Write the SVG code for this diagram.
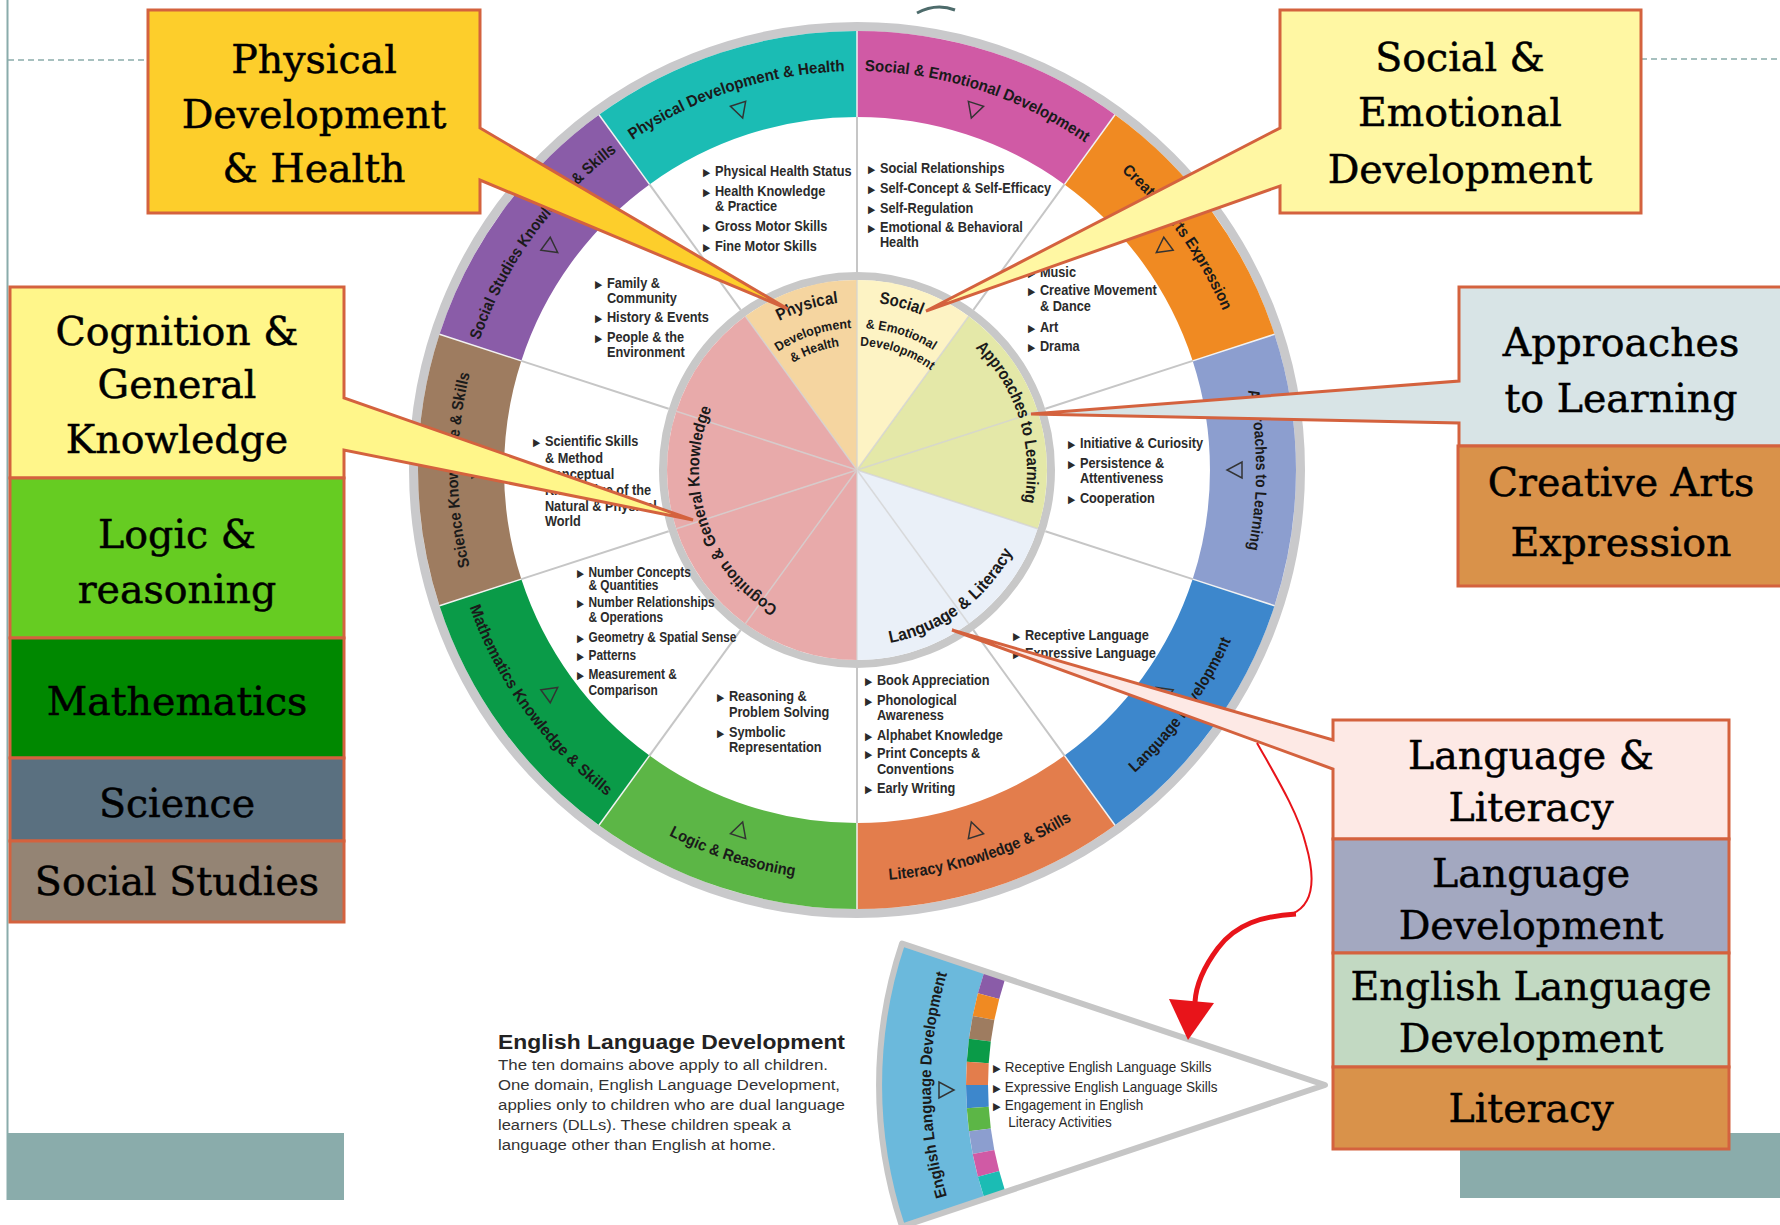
<svg xmlns="http://www.w3.org/2000/svg" width="1780" height="1225" viewBox="0 0 1780 1225">
<defs>
<style>
.box{font-family:"DejaVu Serif","Liberation Serif",serif;font-size:39.5px;fill:#000;stroke:#000;stroke-width:0.5;text-anchor:middle}
.cs{stroke:#d4623e;stroke-width:3;stroke-linejoin:miter}
.band{font-family:"Liberation Sans",Arial,sans-serif;font-weight:bold;font-size:16px;fill:#1a1a1a}
.inl{font-family:"Liberation Sans",Arial,sans-serif;font-weight:bold;fill:#1a1a1a}
.it{font-family:"Liberation Sans",Arial,sans-serif;font-weight:bold;font-size:15px;fill:#2b2b2b}
.itr{font-family:"Liberation Sans",Arial,sans-serif;font-size:15px;fill:#2b2b2b}
.bu{font-family:"DejaVu Sans",sans-serif;font-size:11px}
.sep{stroke:#f2f2f2;stroke-width:1.5}
.rad{stroke:#c6c6c6;stroke-width:2}
.irad{stroke:#d4d4d4;stroke-width:1.5;opacity:.8}
.tri{fill:none;stroke:#333;stroke-width:1.5}
.deco{fill:#8aacab}
</style>
<path id="pSci" d="M477.5,593.3 A399 399 0 0 1 477.5,346.7"/>
<path id="pSoc" d="M477.5,346.7 A399 399 0 0 1 622.5,147.2"/>
<path id="pPhy" d="M622.5,147.2 A399 399 0 0 1 857,71"/>
<path id="pSE" d="M857,71 A399 399 0 0 1 1091.5,147.2"/>
<path id="pCA" d="M1091.5,147.2 A399 399 0 0 1 1236.5,346.7"/>
<path id="pAL" d="M1236.5,346.7 A399 399 0 0 1 1236.5,593.3"/>
<path id="pLD" d="M1098.6,802.5 A411 411 0 0 0 1247.9,597"/>
<path id="pLit" d="M857,881 A411 411 0 0 0 1098.6,802.5"/>
<path id="pLog" d="M615.4,802.5 A411 411 0 0 0 857,881"/>
<path id="pMat" d="M466.1,597 A411 411 0 0 0 615.4,802.5"/>
<path id="iPhy1" d="M708.7,391.1 A168 168 0 0 1 935.9,321.7"/>
<path id="iPhy2" d="M730.5,405.5 A142 142 0 0 1 921.5,343.5"/>
<path id="iPhy3" d="M744.2,416.2 A125 125 0 0 1 910.8,357.2"/>
<path id="iSE1" d="M773,324.5 A168 168 0 0 1 1002.5,386"/>
<path id="iSE2" d="M792.5,343.5 A142 142 0 0 1 983.5,405.5"/>
<path id="iSE3" d="M802.6,358.5 A124 124 0 0 1 968.5,415.6"/>
<path id="iAL" d="M935.5,319.2 A170 170 0 0 1 1007.8,548.5"/>
<path id="iLL" d="M831,644.1 A176 176 0 0 0 1031.1,496"/>
<path id="iCG" d="M786.5,611.4 A158 158 0 0 1 715.6,399.5"/>
<path id="pELD" d="M950.2,1206.7 A394 394 0 0 1 950.2,963.3"/>
</defs>
<rect width="1780" height="1225" fill="#fff"/>

<g id="decor">
<line x1="7.5" y1="0" x2="7.5" y2="1200" stroke="#8aacab" stroke-width="2"/>
<line x1="8" y1="60" x2="148" y2="60" stroke="#8aacab" stroke-width="1.5" stroke-dasharray="6 4"/>
<line x1="1641" y1="59" x2="1780" y2="59" stroke="#8aacab" stroke-width="1.5" stroke-dasharray="6 4"/>
<rect class="deco" x="8" y="1133" width="336" height="67"/>
<rect class="deco" x="1460" y="1133" width="320" height="65"/>
<path d="M917,13 Q936,3 955,10" fill="none" stroke="#4d6b6b" stroke-width="3"/>
</g>

<g id="wheel">
<circle cx="857" cy="470" r="443.5" fill="#fff" stroke="#c9c9cb" stroke-width="9"/>
<path fill="#d05aa5" d="M857,31 A439 439 0 0 1 1115,114.8 L1064.5,184.4 A353 353 0 0 0 857,117 Z"/>
<path fill="#f08a22" d="M1115,114.8 A439 439 0 0 1 1274.5,334.3 L1192.7,360.9 A353 353 0 0 0 1064.5,184.4 Z"/>
<path fill="#8c9ecf" d="M1274.5,334.3 A439 439 0 0 1 1274.5,605.7 L1192.7,579.1 A353 353 0 0 0 1192.7,360.9 Z"/>
<path fill="#3d87cc" d="M1274.5,605.7 A439 439 0 0 1 1115,825.2 L1064.5,755.6 A353 353 0 0 0 1192.7,579.1 Z"/>
<path fill="#e37d4c" d="M1115,825.2 A439 439 0 0 1 857,909 L857,823 A353 353 0 0 0 1064.5,755.6 Z"/>
<path fill="#5cb646" d="M857,909 A439 439 0 0 1 599,825.2 L649.5,755.6 A353 353 0 0 0 857,823 Z"/>
<path fill="#0a9b48" d="M599,825.2 A439 439 0 0 1 439.5,605.7 L521.3,579.1 A353 353 0 0 0 649.5,755.6 Z"/>
<path fill="#9e7c60" d="M439.5,605.7 A439 439 0 0 1 439.5,334.3 L521.3,360.9 A353 353 0 0 0 521.3,579.1 Z"/>
<path fill="#8a5ca8" d="M439.5,334.3 A439 439 0 0 1 599,114.8 L649.5,184.4 A353 353 0 0 0 521.3,360.9 Z"/>
<path fill="#1bbcb4" d="M599,114.8 A439 439 0 0 1 857,31 L857,117 A353 353 0 0 0 649.5,184.4 Z"/>
<g class="sep">
<line x1="857" y1="31" x2="857" y2="117"/><line x1="1115" y1="114.8" x2="1064.5" y2="184.4"/>
<line x1="1274.5" y1="334.3" x2="1192.7" y2="360.9"/><line x1="1274.5" y1="605.7" x2="1192.7" y2="579.1"/>
<line x1="1115" y1="825.2" x2="1064.5" y2="755.6"/><line x1="857" y1="909" x2="857" y2="823"/>
<line x1="599" y1="825.2" x2="649.5" y2="755.6"/><line x1="439.5" y1="605.7" x2="521.3" y2="579.1"/>
<line x1="439.5" y1="334.3" x2="521.3" y2="360.9"/><line x1="599" y1="114.8" x2="649.5" y2="184.4"/>
</g>
<g class="rad">
<line x1="857" y1="272" x2="857" y2="117"/><line x1="973.4" y1="309.8" x2="1064.5" y2="184.4"/>
<line x1="1045.3" y1="408.8" x2="1192.7" y2="360.9"/><line x1="1045.3" y1="531.2" x2="1192.7" y2="579.1"/>
<line x1="973.4" y1="630.2" x2="1064.5" y2="755.6"/><line x1="857" y1="668" x2="857" y2="823"/>
<line x1="740.6" y1="630.2" x2="649.5" y2="755.6"/><line x1="668.7" y1="531.2" x2="521.3" y2="579.1"/>
<line x1="668.7" y1="408.8" x2="521.3" y2="360.9"/><line x1="740.6" y1="309.8" x2="649.5" y2="184.4"/>
</g>
<circle cx="857" cy="470" r="194" fill="none" stroke="#c8c8c8" stroke-width="8"/>
<path fill="#f5d5a0" d="M857,470 L745.3,316.3 A190 190 0 0 1 857,280 Z"/>
<path fill="#fdf3c4" d="M857,470 L857,280 A190 190 0 0 1 968.7,316.3 Z"/>
<path fill="#e4e8a8" d="M857,470 L968.7,316.3 A190 190 0 0 1 1037.7,528.7 Z"/>
<path fill="#eaf0f8" d="M857,470 L1037.7,528.7 A190 190 0 0 1 857,660 Z"/>
<path fill="#e8aaaa" d="M857,470 L857,660 A190 190 0 0 1 745.3,316.3 Z"/>
<g class="irad">
<line x1="857" y1="470" x2="857" y2="280"/><line x1="857" y1="470" x2="968.7" y2="316.3"/>
<line x1="857" y1="470" x2="1037.7" y2="411.3"/><line x1="857" y1="470" x2="1037.7" y2="528.7"/>
<line x1="857" y1="470" x2="968.7" y2="623.7"/><line x1="857" y1="470" x2="857" y2="660"/>
<line x1="857" y1="470" x2="745.3" y2="623.7"/><line x1="857" y1="470" x2="676.3" y2="528.7"/>
<line x1="857" y1="470" x2="676.3" y2="411.3"/><line x1="857" y1="470" x2="745.3" y2="316.3"/>
</g>

<g class="band">
<text><textPath href="#pSci" startOffset="50%" text-anchor="middle" textLength="195" lengthAdjust="spacingAndGlyphs">Science Knowledge &amp; Skills</textPath></text>
<text><textPath href="#pSoc" startOffset="50%" text-anchor="middle" textLength="237" lengthAdjust="spacingAndGlyphs">Social Studies Knowledge &amp; Skills</textPath></text>
<text><textPath href="#pPhy" startOffset="50%" text-anchor="middle" textLength="226" lengthAdjust="spacingAndGlyphs">Physical Development &amp; Health</textPath></text>
<text><textPath href="#pSE" startOffset="50%" text-anchor="middle" textLength="235" lengthAdjust="spacingAndGlyphs">Social &amp; Emotional Development</textPath></text>
<text><textPath href="#pCA" startOffset="50%" text-anchor="middle" textLength="174" lengthAdjust="spacingAndGlyphs">Creative Arts Expression</textPath></text>
<text><textPath href="#pAL" startOffset="50%" text-anchor="middle" textLength="160" lengthAdjust="spacingAndGlyphs">Approaches to Learning</textPath></text>
<text><textPath href="#pLD" startOffset="50%" text-anchor="middle" textLength="165" lengthAdjust="spacingAndGlyphs">Language Development</textPath></text>
<text><textPath href="#pLit" startOffset="50%" text-anchor="middle" textLength="194" lengthAdjust="spacingAndGlyphs">Literacy Knowledge &amp; Skills</textPath></text>
<text><textPath href="#pLog" startOffset="50%" text-anchor="middle" textLength="133" lengthAdjust="spacingAndGlyphs">Logic &amp; Reasoning</textPath></text>
<text><textPath href="#pMat" startOffset="50%" text-anchor="middle" textLength="237" lengthAdjust="spacingAndGlyphs">Mathematics Knowledge &amp; Skills</textPath></text>
</g>
<g class="tri">
<polygon points="-8,-7 8,-7 0,8" transform="translate(973.8,110.5) rotate(18)"/>
<polygon points="-8,-7 8,-7 0,8" transform="translate(1162.8,247.8) rotate(54)"/>
<polygon points="-8,-7 8,-7 0,8" transform="translate(1235,470) rotate(90)"/>
<polygon points="-8,-7 8,-7 0,8" transform="translate(1162.8,692.2) rotate(126)"/>
<polygon points="-8,-7 8,-7 0,8" transform="translate(973.8,829.5) rotate(162)"/>
<polygon points="-8,-7 8,-7 0,8" transform="translate(740.2,829.5) rotate(198)"/>
<polygon points="-8,-7 8,-7 0,8" transform="translate(551.2,692.2) rotate(234)"/>
<polygon points="-8,-7 8,-7 0,8" transform="translate(479,470) rotate(270)"/>
<polygon points="-8,-7 8,-7 0,8" transform="translate(551.2,247.8) rotate(306)"/>
<polygon points="-8,-7 8,-7 0,8" transform="translate(740.2,110.5) rotate(342)"/>
</g>

<g class="inl">
<text font-size="17"><textPath href="#iPhy1" startOffset="50%" text-anchor="middle" textLength="62" lengthAdjust="spacingAndGlyphs">Physical</textPath></text>
<text font-size="13"><textPath href="#iPhy2" startOffset="50%" text-anchor="middle" textLength="78" lengthAdjust="spacingAndGlyphs">Development</textPath></text>
<text font-size="13"><textPath href="#iPhy3" startOffset="50%" text-anchor="middle" textLength="50" lengthAdjust="spacingAndGlyphs">&amp; Health</textPath></text>
<text font-size="17"><textPath href="#iSE1" startOffset="50%" text-anchor="middle" textLength="44" lengthAdjust="spacingAndGlyphs">Social</textPath></text>
<text font-size="13"><textPath href="#iSE2" startOffset="50%" text-anchor="middle" textLength="72" lengthAdjust="spacingAndGlyphs">&amp; Emotional</textPath></text>
<text font-size="13"><textPath href="#iSE3" startOffset="50%" text-anchor="middle" textLength="76" lengthAdjust="spacingAndGlyphs">Development</textPath></text>
<text font-size="17"><textPath href="#iAL" startOffset="50%" text-anchor="middle" textLength="169" lengthAdjust="spacingAndGlyphs">Approaches to Learning</textPath></text>
<text font-size="17"><textPath href="#iLL" startOffset="50%" text-anchor="middle" textLength="158" lengthAdjust="spacingAndGlyphs">Language &amp; Literacy</textPath></text>
<text font-size="16.5"><textPath href="#iCG" startOffset="50%" text-anchor="middle" textLength="229" lengthAdjust="spacingAndGlyphs">Cognition &amp; General Knowledge</textPath></text>
</g>

<g class="it">
<g transform="translate(703,0) scale(0.85,1)">
<text y="176"><tspan class="bu">▶</tspan><tspan x="14">Physical Health Status</tspan></text>
<text y="196"><tspan class="bu">▶</tspan><tspan x="14">Health Knowledge</tspan></text>
<text x="14" y="211">&amp; Practice</text>
<text y="231"><tspan class="bu">▶</tspan><tspan x="14">Gross Motor Skills</tspan></text>
<text y="251"><tspan class="bu">▶</tspan><tspan x="14">Fine Motor Skills</tspan></text>
</g>
<g transform="translate(595,0) scale(0.85,1)">
<text y="288"><tspan class="bu">▶</tspan><tspan x="14">Family &amp;</tspan></text>
<text x="14" y="303">Community</text>
<text y="322"><tspan class="bu">▶</tspan><tspan x="14">History &amp; Events</tspan></text>
<text y="342"><tspan class="bu">▶</tspan><tspan x="14">People &amp; the</tspan></text>
<text x="14" y="357">Environment</text>
</g>
<g transform="translate(533,0) scale(0.85,1)">
<text y="446"><tspan class="bu">▶</tspan><tspan x="14">Scientific Skills</tspan></text>
<text x="14" y="463">&amp; Method</text>
<text y="479"><tspan class="bu">▶</tspan><tspan x="14">Conceptual</tspan></text>
<text x="14" y="495">Knowledge of the</text>
<text x="14" y="511">Natural &amp; Physical</text>
<text x="14" y="526">World</text>
</g>
<g transform="translate(868,0) scale(0.85,1)">
<text y="173"><tspan class="bu">▶</tspan><tspan x="14">Social Relationships</tspan></text>
<text y="193"><tspan class="bu">▶</tspan><tspan x="14">Self-Concept &amp; Self-Efficacy</tspan></text>
<text y="213"><tspan class="bu">▶</tspan><tspan x="14">Self-Regulation</tspan></text>
<text y="232"><tspan class="bu">▶</tspan><tspan x="14">Emotional &amp; Behavioral</tspan></text>
<text x="14" y="247">Health</text>
</g>
<g transform="translate(1028,0) scale(0.85,1)">
<text y="277"><tspan class="bu">▶</tspan><tspan x="14">Music</tspan></text>
<text y="295"><tspan class="bu">▶</tspan><tspan x="14">Creative Movement</tspan></text>
<text x="14" y="311">&amp; Dance</text>
<text y="332"><tspan class="bu">▶</tspan><tspan x="14">Art</tspan></text>
<text y="351"><tspan class="bu">▶</tspan><tspan x="14">Drama</tspan></text>
</g>
<g transform="translate(1068,0) scale(0.85,1)">
<text y="448"><tspan class="bu">▶</tspan><tspan x="14">Initiative &amp; Curiosity</tspan></text>
<text y="468"><tspan class="bu">▶</tspan><tspan x="14">Persistence &amp;</tspan></text>
<text x="14" y="483">Attentiveness</text>
<text y="503"><tspan class="bu">▶</tspan><tspan x="14">Cooperation</tspan></text>
</g>
<g transform="translate(1013,0) scale(0.85,1)">
<text y="640"><tspan class="bu">▶</tspan><tspan x="14">Receptive Language</tspan></text>
<text y="658"><tspan class="bu">▶</tspan><tspan x="14">Expressive Language</tspan></text>
</g>
<g transform="translate(865,0) scale(0.85,1)">
<text y="685"><tspan class="bu">▶</tspan><tspan x="14">Book Appreciation</tspan></text>
<text y="705"><tspan class="bu">▶</tspan><tspan x="14">Phonological</tspan></text>
<text x="14" y="720">Awareness</text>
<text y="740"><tspan class="bu">▶</tspan><tspan x="14">Alphabet Knowledge</tspan></text>
<text y="758"><tspan class="bu">▶</tspan><tspan x="14">Print Concepts &amp;</tspan></text>
<text x="14" y="774">Conventions</text>
<text y="793"><tspan class="bu">▶</tspan><tspan x="14">Early Writing</tspan></text>
</g>
<g transform="translate(717,0) scale(0.85,1)">
<text y="701"><tspan class="bu">▶</tspan><tspan x="14">Reasoning &amp;</tspan></text>
<text x="14" y="717">Problem Solving</text>
<text y="737"><tspan class="bu">▶</tspan><tspan x="14">Symbolic</tspan></text>
<text x="14" y="752">Representation</text>
</g>
<g transform="translate(577,0) scale(0.82,1)" font-size="14.5">
<text y="577"><tspan class="bu">▶</tspan><tspan x="14">Number Concepts</tspan></text>
<text x="14" y="590">&amp; Quantities</text>
<text y="607"><tspan class="bu">▶</tspan><tspan x="14">Number Relationships</tspan></text>
<text x="14" y="622">&amp; Operations</text>
<text y="642"><tspan class="bu">▶</tspan><tspan x="14">Geometry &amp; Spatial Sense</tspan></text>
<text y="660"><tspan class="bu">▶</tspan><tspan x="14">Patterns</tspan></text>
<text y="679"><tspan class="bu">▶</tspan><tspan x="14">Measurement &amp;</tspan></text>
<text x="14" y="695">Comparison</text>
</g>
</g>
</g>

<g id="eld">
<path fill="#6bb9dc" d="M902.1,943.5 A446 446 0 0 0 902.1,1226.5 L984.6,1198.9 A359 359 0 0 1 984.6,971.1 Z"/>
<polygon fill="#8a5ca8" points="984.6,971.1 977.9,993.3 999.2,998.9 1005.4,978.1"/>
<polygon fill="#f08a22" points="977.9,993.3 972.7,1015.9 994.3,1020.1 999.2,998.9"/>
<polygon fill="#9e7c60" points="972.7,1015.9 969,1038.8 990.8,1041.6 994.3,1020.1"/>
<polygon fill="#0a9b48" points="969,1038.8 966.8,1061.8 988.7,1063.3 990.8,1041.6"/>
<polygon fill="#e37d4c" points="966.8,1061.8 966,1085 988,1085 988.7,1063.3"/>
<polygon fill="#3d87cc" points="966,1085 966.8,1108.2 988.7,1106.7 988,1085"/>
<polygon fill="#5cb646" points="966.8,1108.2 969,1131.2 990.8,1128.4 988.7,1106.7"/>
<polygon fill="#8c9ecf" points="969,1131.2 972.7,1154.1 994.3,1149.9 990.8,1128.4"/>
<polygon fill="#d05aa5" points="972.7,1154.1 977.9,1176.7 999.2,1171.1 994.3,1149.9"/>
<polygon fill="#1bbcb4" points="977.9,1176.7 984.6,1198.9 1005.4,1191.9 999.2,1171.1"/>
<path d="M1325,1085 L902.1,943.5 A446 446 0 0 0 902.1,1226.5 Z" fill="none" stroke="#c6c6c6" stroke-width="6" stroke-linejoin="round"/>
<text class="band"><textPath href="#pELD" startOffset="50%" text-anchor="middle" textLength="226" lengthAdjust="spacingAndGlyphs">English Language Development</textPath></text>
<polygon class="tri" points="-8,-7 8,-7 0,8" transform="translate(946,1090) rotate(-90)"/>
<g class="itr" transform="translate(993,0) scale(0.9,1)">
<text y="1072"><tspan class="bu">▶</tspan><tspan x="13">Receptive English Language Skills</tspan></text>
<text y="1092"><tspan class="bu">▶</tspan><tspan x="13">Expressive English Language Skills</tspan></text>
<text y="1110"><tspan class="bu">▶</tspan><tspan x="13">Engagement in English</tspan></text>
<text x="17" y="1127">Literacy Activities</text>
</g>
<g font-family="Liberation Sans, Arial, sans-serif" fill="#333">
<text x="498" y="1049" font-size="21" font-weight="bold" fill="#222" textLength="347" lengthAdjust="spacingAndGlyphs">English Language Development</text>
<text x="498" y="1070" font-size="15.5" textLength="330" lengthAdjust="spacingAndGlyphs">The ten domains above apply to all children.</text>
<text x="498" y="1090" font-size="15.5" textLength="342" lengthAdjust="spacingAndGlyphs">One domain, English Language Development,</text>
<text x="498" y="1110" font-size="15.5" textLength="347" lengthAdjust="spacingAndGlyphs">applies only to children who are dual language</text>
<text x="498" y="1130" font-size="15.5" textLength="293" lengthAdjust="spacingAndGlyphs">learners (DLLs). These children speak a</text>
<text x="498" y="1150" font-size="15.5" textLength="278" lengthAdjust="spacingAndGlyphs">language other than English at home.</text>
</g>
</g>

<g id="node-physical">
<path class="cs" fill="#fdce2b" d="M148,10 H480 V128 L788,309 L480,180 V213 H148 Z"/>
<text class="box" x="314" y="73">Physical</text>
<text class="box" x="314" y="128">Development</text>
<text class="box" x="314" y="182">&amp; Health</text>
</g>
<g id="node-social">
<path class="cs" fill="#fff7a3" d="M1280,10 H1641 V213 H1280 V186 L926,311 L1280,128 Z"/>
<text class="box" x="1460" y="71">Social &amp;</text>
<text class="box" x="1460" y="126">Emotional</text>
<text class="box" x="1460" y="183">Development</text>
</g>
<g id="node-cognition">
<path class="cs" fill="#fff68a" d="M10,287 H344 V398 L693,520 L344,450 V478 H10 Z"/>
<text class="box" x="177" y="345">Cognition &amp;</text>
<text class="box" x="177" y="398">General</text>
<text class="box" x="177" y="453">Knowledge</text>
</g>
<g id="node-logic">
<rect class="cs" fill="#66cc22" x="10" y="478" width="334" height="160"/>
<text class="box" x="177" y="548">Logic &amp;</text>
<text class="box" x="177" y="603">reasoning</text>
</g>
<g id="node-math">
<rect class="cs" fill="#008800" x="10" y="638" width="334" height="120"/>
<text class="box" x="177" y="715">Mathematics</text>
</g>
<g id="node-science">
<rect class="cs" fill="#5a7080" x="10" y="758" width="334" height="83"/>
<text class="box" x="177" y="817">Science</text>
</g>
<g id="node-socialstudies">
<rect class="cs" fill="#948474" x="10" y="841" width="334" height="81"/>
<text class="box" x="177" y="895">Social Studies</text>
</g>
<g id="node-approaches">
<path class="cs" fill="#d8e4e6" d="M1459,287 H1783 V446 H1459 V423 L1031,414 L1459,381 Z"/>
<text class="box" x="1621" y="356">Approaches</text>
<text class="box" x="1621" y="412">to Learning</text>
</g>
<g id="node-creative">
<rect class="cs" fill="#d9924a" x="1458" y="446" width="325" height="140"/>
<text class="box" x="1621" y="496">Creative Arts</text>
<text class="box" x="1621" y="556">Expression</text>
</g>
<g id="node-langlit">
<path class="cs" fill="#fde9e5" d="M1333,720 H1729 V839 H1333 V769 L952,630 L1333,740 Z"/>
<text class="box" x="1531" y="769">Language &amp;</text>
<text class="box" x="1531" y="821">Literacy</text>
</g>
<g id="node-langdev">
<rect class="cs" fill="#a3a8c0" x="1333" y="839" width="396" height="114"/>
<text class="box" x="1531" y="887">Language</text>
<text class="box" x="1531" y="939">Development</text>
</g>
<g id="node-eld">
<rect class="cs" fill="#c2d9c2" x="1333" y="953" width="396" height="114"/>
<text class="box" x="1531" y="1000">English Language</text>
<text class="box" x="1531" y="1052">Development</text>
</g>
<g id="node-literacy">
<rect class="cs" fill="#d9924a" x="1333" y="1067" width="396" height="82"/>
<text class="box" x="1531" y="1122">Literacy</text>
</g>

<g id="connectors">
<path d="M1257,743 C1275,775 1298,812 1306,845 C1316,880 1313,905 1292,914" fill="none" stroke="#e8141a" stroke-width="2"/>
<path d="M1296,914 C1262,916 1236,924 1218,948 C1203,968 1196,985 1195,1002" fill="none" stroke="#e8141a" stroke-width="5"/>
<polygon points="1169,999 1214,1003 1188,1040" fill="#e8141a"/>
</g>
</svg>
